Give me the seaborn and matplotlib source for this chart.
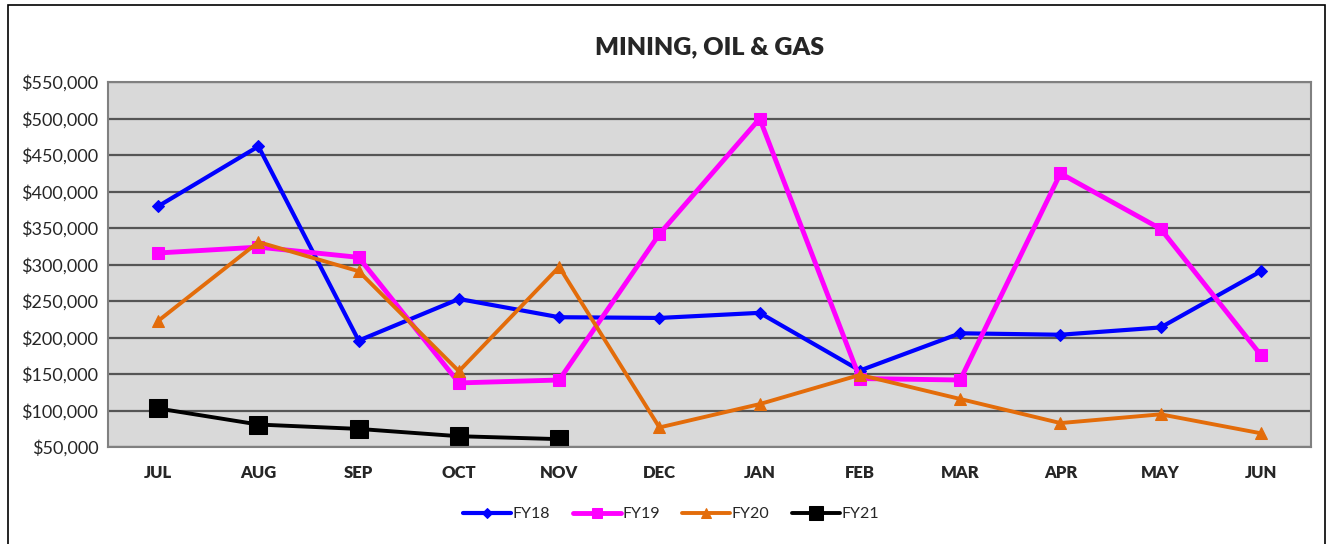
"""Mining, Oil & Gas monthly totals by fiscal year, Excel-style line chart."""

import numpy as np
import pandas as pd
import matplotlib.pyplot as plt
import seaborn as sns
from matplotlib.patches import Rectangle
from matplotlib.ticker import FuncFormatter, FixedLocator

months = ["JUL", "AUG", "SEP", "OCT", "NOV", "DEC",
          "JAN", "FEB", "MAR", "APR", "MAY", "JUN"]

fy18 = [380000, 462000, 196000, 253000, 228000, 227000,
        234000, 155000, 206000, 204000, 214000, 291000]
fy19 = [316000, 324000, 310000, 138000, 142000, 342000,
        500000, 144000, 142000, 425000, 349000, 176000]
fy20 = [223000, 331000, 291000, 154000, 297000, 77000,
        109000, 149000, 116000, 83000, 95000, 69000]
fy21 = [103000, 81000, 75000, 65000, 61000]

series = {"FY18": fy18, "FY19": fy19, "FY20": fy20, "FY21": fy21}

styles = {
    "FY18": dict(color="#0000ff", marker="D", ms=6, lw=3.0),
    "FY19": dict(color="#ff00ff", marker="s", ms=9, lw=3.5),
    "FY20": dict(color="#e36c0a", marker="^", ms=9, lw=2.8),
    "FY21": dict(color="#000000", marker="s", ms=13, lw=2.8),
}

rows = []
for name, vals in series.items():
    for i, v in enumerate(vals):
        rows.append({"month_idx": i, "value": v, "series": name})
df = pd.DataFrame(rows)

sns.set_style("white")
plt.rcParams["font.family"] = ["Lato", "DejaVu Sans"]

fig = plt.figure(figsize=(13.29, 5.44), dpi=100)
ax = fig.add_axes([0.0813, 0.178, 0.9052, 0.671])
ax.set_facecolor("#d9d9d9")

for name in series:
    st = styles[name]
    sns.lineplot(
        data=df[df["series"] == name], x="month_idx", y="value",
        ax=ax, color=st["color"], linewidth=st["lw"],
        marker=st["marker"], markersize=st["ms"],
        markeredgecolor=st["color"], label=name,
    )

ax.set_xlim(-0.5, len(months) - 0.5)
ax.set_ylim(50000, 550000)
ax.set_yticks(np.arange(50000, 550001, 50000))
ax.yaxis.set_major_formatter(FuncFormatter(lambda v, p: f"${v:,.0f}"))
ax.yaxis.grid(True, color="#555555", linewidth=1.6)
ax.set_axisbelow(True)

ax.set_xticks(range(len(months)))
ax.set_xticklabels(months, fontweight="heavy", fontsize=12)
ax.xaxis.set_minor_locator(FixedLocator(np.arange(-0.5, len(months), 1)))
ax.tick_params(axis="x", which="major", length=0, pad=13)
ax.tick_params(axis="x", which="minor", length=6, color="#808080", width=1.2)
ax.tick_params(axis="y", length=0, labelsize=13, pad=7)
ax.set_xlabel("")
ax.set_ylabel("")

for s in ax.spines.values():
    s.set_color("#808080")
    s.set_linewidth(1.5)

ax.set_title("MINING, OIL & GAS", fontsize=18, fontweight="heavy", pad=20)

leg = ax.legend(loc="upper center", bbox_to_anchor=(0.468, -0.125), ncol=4,
                frameon=False, fontsize=11.5, handlelength=3.0,
                columnspacing=1.4, handletextpad=0.1, markerscale=0.8)

fig.patches.append(Rectangle((0.006, -0.01), 0.991, 1.0, transform=fig.transFigure,
                             fill=False, edgecolor="black", linewidth=1.2))

fig.savefig("out.png", dpi=100)
